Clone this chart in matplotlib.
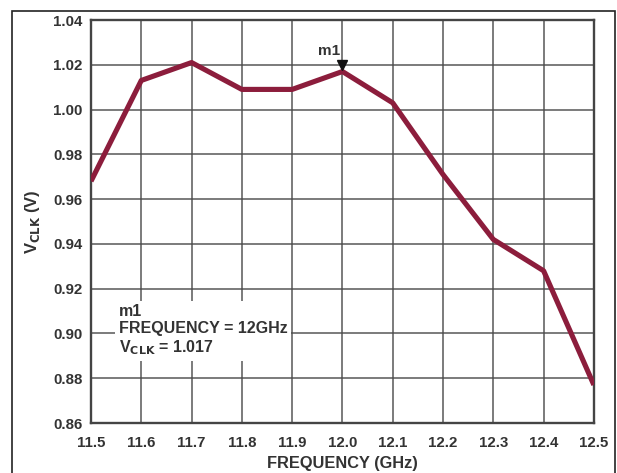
import matplotlib.pyplot as plt
from matplotlib.patches import Rectangle

# Datos de la curva VCLK contra frecuencia
frecuencia = [11.5, 11.6, 11.7, 11.8, 11.9, 12.0, 12.1, 12.2, 12.3, 12.4, 12.5]
vclk = [0.968, 1.013, 1.021, 1.009, 1.009, 1.017, 1.003, 0.971, 0.942, 0.928, 0.877]

# Marcador m1
m1_frec = 12.0
m1_vclk = 1.017

xticks = [11.5, 11.6, 11.7, 11.8, 11.9, 12.0, 12.1, 12.2, 12.3, 12.4, 12.5]
yticks = [0.86, 0.88, 0.90, 0.92, 0.94, 0.96, 0.98, 1.00, 1.02, 1.04]

plt.rcParams['font.family'] = ['Liberation Sans', 'DejaVu Sans']

fig = plt.figure(figsize=(6.17, 4.73), dpi=100)
ax = fig.add_axes([0.1475, 0.1057, 0.815, 0.852])

# Marco exterior
fig.patches.append(Rectangle((0.0194, -0.1), 0.9774, 1.0767, transform=fig.transFigure,
                             fill=False, edgecolor='#222222', linewidth=1.2))

ax.plot(frecuencia, vclk, color='#8c1d3c', linewidth=3.7, solid_joinstyle='round',
        solid_capstyle='butt', zorder=3)

ax.set_xlim(11.5, 12.5)
ax.set_ylim(0.86, 1.04)
ax.set_xticks(xticks)
ax.set_yticks(yticks)
ax.set_xticklabels(['%.1f' % v for v in xticks])
ax.set_yticklabels(['%.2f' % v for v in yticks])
ax.tick_params(length=0, labelsize=10.8, labelcolor='#333333')
ax.tick_params(axis='x', pad=9)
ax.tick_params(axis='y', pad=6)
for lbl in ax.get_xticklabels() + ax.get_yticklabels():
    lbl.set_fontweight('bold')
ax.grid(True, color='#4a4a4a', linewidth=1.2, alpha=0.85, zorder=1)
for s in ax.spines.values():
    s.set_color('#444444')
    s.set_linewidth(1.7)

ax.set_xlabel('FREQUENCY (GHz)', fontsize=11.8, fontweight='bold', color='#333333', labelpad=5)
ax.set_ylabel('V$_{\\mathbf{CLK}}$ (V)', fontsize=12, fontweight='bold', color='#333333', labelpad=8)

# Marcador y etiqueta m1
ax.plot([m1_frec], [m1_vclk + 0.0028], marker='v', color='#111111', markersize=7, zorder=4)
ax.text(m1_frec - 0.004, m1_vclk + 0.006, 'm1', fontsize=11, fontweight='bold',
        color='#333333', ha='right', va='bottom')

ax.text(11.555, 0.9013, 'm1\nFREQUENCY = %gGHz\nV$_{\\mathbf{CLK}}$ = %.3f' % (m1_frec, m1_vclk),
        fontsize=11.5, fontweight='bold', color='#333333', ha='left', va='center',
        linespacing=1.2, zorder=4,
        bbox=dict(boxstyle='square,pad=0.25', facecolor='white', edgecolor='none'))

fig.savefig('out.png', dpi=100)
